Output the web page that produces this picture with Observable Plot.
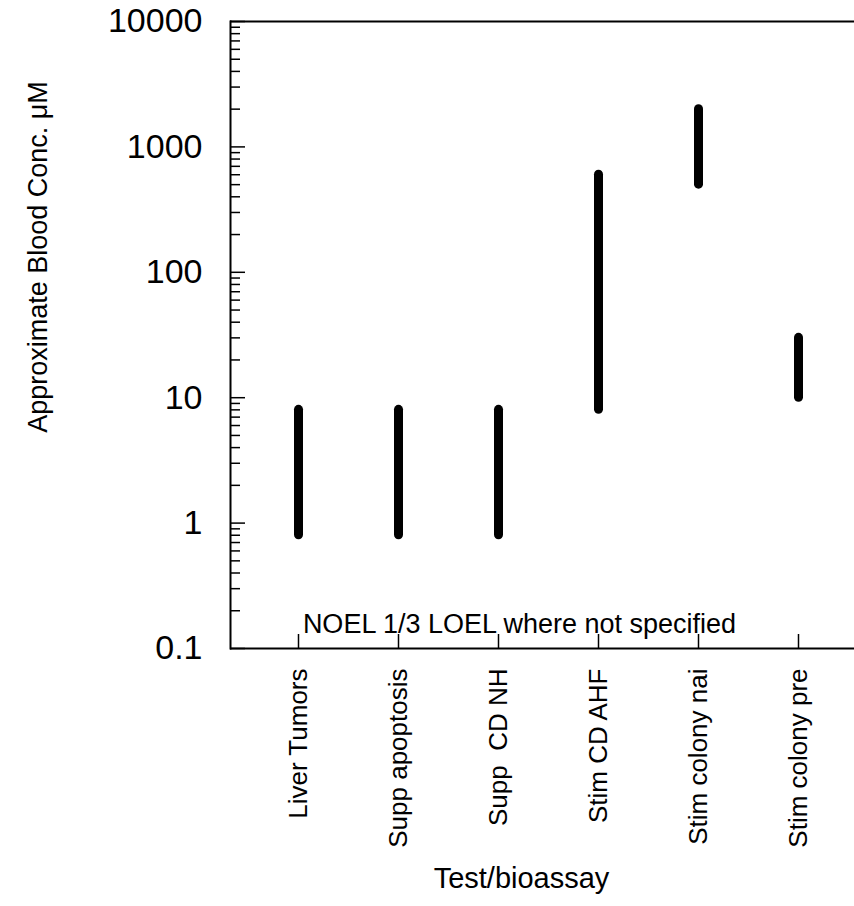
<!DOCTYPE html>
<html>
<head>
<meta charset="utf-8">
<script src="https://cdn.jsdelivr.net/npm/d3@7"></script>
<script src="https://cdn.jsdelivr.net/npm/@observablehq/plot@0.6"></script>
<style>
  body { margin: 0; background: #fff; }
  svg text { white-space: pre; }
</style>
</head>
<body>
<div id="chart"></div>
<script>
// Test / bioassay categories
const tests = ["Liver Tumors", "Supp apoptosis", "Supp  CD NH", "Stim CD AHF", "Stim colony nai", "Stim colony pre"];
// Lower end of each range (NOEL, µM)
const noel = [0.8, 0.8, 0.8, 8, 500, 10];
// Upper end of each range (LOEL, µM)
const loel = [8, 8, 8, 600, 2000, 30];
// Labelled decades on the concentration axis
const yMajor = [0.1, 1, 10, 100, 1000, 10000];
const yTitle = "Approximate Blood Conc. μM";
const xTitle = "Test/bioassay";
const note = "NOEL 1/3 LOEL where not specified";

const ranges = tests.map((t, i) => ({test: t, lo: noel[i], hi: loel[i]}));

// minor ticks 2..9 within each decade
const yMinor = [];
for (const d of yMajor.slice(0, -1)) for (let k = 2; k <= 9; k++) yMinor.push(+(d * k).toPrecision(3));

const W = 854, H = 906;
const frameLeft = 230, frameTop = 21, frameBottom = 648;

const chart = Plot.plot({
  width: W,
  height: H,
  marginLeft: frameLeft,
  marginRight: 0,
  marginTop: frameTop,
  marginBottom: H - frameBottom,
  style: {fontFamily: "'Liberation Sans', Arial, Helvetica, sans-serif", fontSize: "26px", color: "#000", background: "#fff"},
  x: {type: "point", domain: tests, range: [296, 799], padding: 0},
  y: {type: "log", domain: [0.1, 10000]},
  marks: [
    // frame: left, top and bottom edges
    Plot.frame({anchor: "left", strokeWidth: 2}),
    Plot.ruleY([10000], {strokeWidth: 2}),
    Plot.ruleY([0.1], {strokeWidth: 2}),
    // inward ticks on the y axis
    Plot.axisY(yMinor, {tickSize: -10, text: null, label: null, strokeWidth: 1.5}),
    Plot.axisY(yMajor, {tickSize: -15, text: null, label: null, strokeWidth: 1.5}),
    Plot.axisY(yMajor, {tickSize: 0, tickPadding: 28, fontSize: 34, label: null, tickFormat: d => String(d)}),
    // x axis: short inward ticks and rotated category labels
    Plot.axisX({tickSize: -14, text: null, label: null, strokeWidth: 1.5}),
    Plot.axisX({tickSize: 0, tickPadding: 20, tickRotate: -90, fontSize: 26, label: null}),
    // concentration range per test
    Plot.ruleX(ranges, {x: "test", y1: "lo", y2: "hi", strokeWidth: 9, strokeLinecap: "round"}),
    Plot.text([note], {frameAnchor: "bottom", dx: -23, dy: -16, lineAnchor: "bottom", fontSize: 27}),
    Plot.text([xTitle], {frameAnchor: "bottom", dx: -21, dy: 230, lineAnchor: "middle", fontSize: 29}),
    Plot.text([yTitle], {frameAnchor: "left", textAnchor: "middle", dx: -192, dy: -78, rotate: -90, lineAnchor: "middle", fontSize: 27})
  ]
});

document.getElementById("chart").appendChild(chart);
</script>
</body>
</html>
